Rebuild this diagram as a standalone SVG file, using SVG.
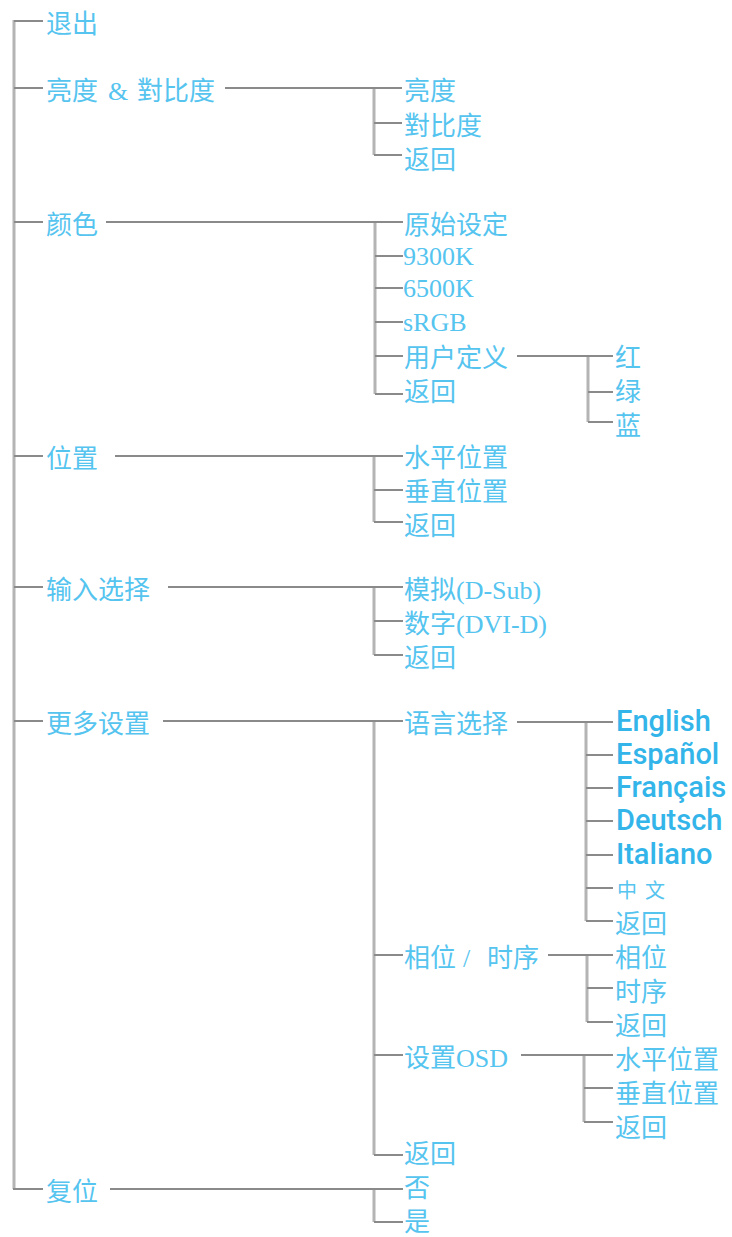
<svg xmlns="http://www.w3.org/2000/svg" width="732" height="1237" viewBox="0 0 732 1237">
<style>
.t{font-family:"Noto Sans CJK SC","Noto Sans CJK TC",sans-serif;font-size:26px;fill:#55c4ef}
.l{font-family:"Liberation Serif",serif;font-size:26px}
.e{font-family:Roboto,"Liberation Sans",sans-serif;font-weight:500;font-size:29px;fill:#33b5ea}
.z{font-family:"Noto Sans CJK SC",sans-serif;font-size:20px;letter-spacing:8px;fill:#55c4ef}
.v{fill:none;stroke:#b4b4b4;stroke-width:3}
.h{fill:none;stroke:#8a8a8a;stroke-width:1.8}
</style>
<rect width="732" height="1237" fill="#fff"/>
<g id="connectors">
<path class="v" d="M14 20V1189"/>
<path class="v" d="M374 88V155M375 222V394M374 456V522M374 587V655M374 721V1155M374 1189V1222M588 356V422M586 722V921M587 955V1022M584 1055V1122"/>
<path class="h" d="M14 21H43M14 88H43M14 222H43M14 456H43M14 587H43M14 721H43M13 1189H43"/>
<path class="h" d="M225 88H402M374 123H402M374 155H402"/>
<path class="h" d="M106 222H403M375 256H403M375 288H403M375 322H403M375 356H403M375 394H403"/>
<path class="h" d="M517 356H613M588 392H613M588 422H613"/>
<path class="h" d="M115 456H403M374 490H403M374 522H403"/>
<path class="h" d="M168 587H403M374 621H403M374 655H403"/>
<path class="h" d="M163 721H403M374 955H403M374 1055H403M374 1155H403"/>
<path class="h" d="M517 722H613M586 755H613M586 788H613M586 821H613M586 855H613M586 888H613M586 921H613"/>
<path class="h" d="M548 955H613M587 988H613M587 1022H613"/>
<path class="h" d="M521 1055H613M584 1088H613M584 1122H613"/>
<path class="h" d="M110 1189H403M374 1222H403"/>
</g>
<g id="n-exit"><text class="t" x="46" y="33">退出</text></g>
<g id="n-brightness"><text class="t" x="46" y="100">亮度<tspan class="l" x="108">&amp;</tspan><tspan x="137">對比度</tspan></text></g>
<g id="n-b1"><text class="t" x="404" y="100">亮度</text></g>
<g id="n-b2"><text class="t" x="404" y="135">對比度</text></g>
<g id="n-b3"><text class="t" x="404" y="169">返回</text></g>
<g id="n-color"><text class="t" x="46" y="234">颜色</text></g>
<g id="n-c1"><text class="t" x="404" y="234">原始设定</text></g>
<g id="n-c2"><text class="t l" x="403" y="265">9300K</text></g>
<g id="n-c3"><text class="t l" x="403" y="297">6500K</text></g>
<g id="n-c4"><text class="t l" x="403" y="331">sRGB</text></g>
<g id="n-c5"><text class="t" x="404" y="367">用户定义</text></g>
<g id="n-c6"><text class="t" x="404" y="401">返回</text></g>
<g id="n-r"><text class="t" x="615" y="367">红</text></g>
<g id="n-g"><text class="t" x="615" y="401">绿</text></g>
<g id="n-bl"><text class="t" x="615" y="435">蓝</text></g>
<g id="n-pos"><text class="t" x="46" y="468">位置</text></g>
<g id="n-p1"><text class="t" x="404" y="467">水平位置</text></g>
<g id="n-p2"><text class="t" x="404" y="501">垂直位置</text></g>
<g id="n-p3"><text class="t" x="404" y="535">返回</text></g>
<g id="n-input"><text class="t" x="46" y="599">输入选择</text></g>
<g id="n-i1"><text class="t" x="404" y="599">模拟<tspan class="l">(D-Sub)</tspan></text></g>
<g id="n-i2"><text class="t" x="404" y="633">数字<tspan class="l">(DVI-D)</tspan></text></g>
<g id="n-i3"><text class="t" x="404" y="667">返回</text></g>
<g id="n-more"><text class="t" x="46" y="733">更多设置</text></g>
<g id="n-lang"><text class="t" x="404" y="733">语言选择</text></g>
<g id="n-en"><text class="e" x="616" y="731">English</text></g>
<g id="n-es"><text class="e" x="616" y="764">Español</text></g>
<g id="n-fr"><text class="e" x="616" y="797">Français</text></g>
<g id="n-de"><text class="e" x="616" y="830">Deutsch</text></g>
<g id="n-it"><text class="e" x="616" y="864">Italiano</text></g>
<g id="n-zh"><text class="z" x="617" y="898">中文</text></g>
<g id="n-l7"><text class="t" x="615" y="933">返回</text></g>
<g id="n-phase"><text class="t" x="404" y="967">相位<tspan class="l" x="463">/</tspan><tspan x="487">时序</tspan></text></g>
<g id="n-ph1"><text class="t" x="615" y="967">相位</text></g>
<g id="n-ph2"><text class="t" x="615" y="1001">时序</text></g>
<g id="n-ph3"><text class="t" x="615" y="1035">返回</text></g>
<g id="n-osd"><text class="t" x="404" y="1067">设置<tspan class="l">OSD</tspan></text></g>
<g id="n-o1"><text class="t" x="615" y="1069">水平位置</text></g>
<g id="n-o2"><text class="t" x="615" y="1103">垂直位置</text></g>
<g id="n-o3"><text class="t" x="615" y="1137">返回</text></g>
<g id="n-m4"><text class="t" x="404" y="1163">返回</text></g>
<g id="n-reset"><text class="t" x="46" y="1201">复位</text></g>
<g id="n-no"><text class="t" x="404" y="1197">否</text></g>
<g id="n-yes"><text class="t" x="404" y="1231">是</text></g>
</svg>
